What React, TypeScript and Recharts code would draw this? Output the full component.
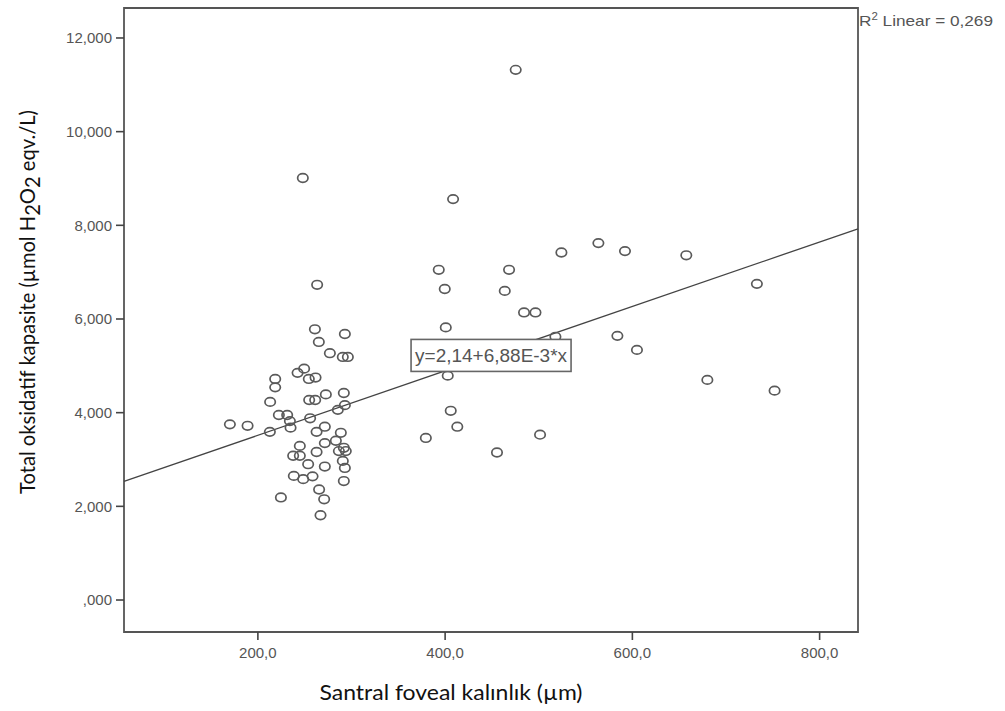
import { ScatterChart, Scatter, XAxis, YAxis, ReferenceArea, ReferenceLine, ReferenceDot } from "recharts";

// Santral foveal kalınlık (µm)
const foveal = [
  263.3, 260.9, 265.1, 276.9, 218.5, 218.5, 242.4, 249.4, 254.4, 261.6,
  213.1, 254.8, 261.2, 272.6, 170.1, 189.0, 222.4, 231.3, 234.2, 255.8,
  212.8, 234.9, 262.7, 271.5, 244.8, 237.7, 244.8, 262.7, 271.5, 253.7,
  271.5, 238.4, 248.4, 258.4, 265.4, 270.8, 224.6, 266.9,
  292.9, 290.7, 296.1, 291.8, 292.9, 285.4, 288.6, 283.3, 291.8, 286.5,
  293.9, 290.7, 292.9, 291.8,
  248.0, 475.4, 408.5, 393.2, 468.3, 399.6, 463.7, 484.3, 496.5, 400.7,
  517.8, 402.8, 406.0, 413.0, 379.4, 501.4, 455.4, 524.2, 563.7, 592.1,
  657.6, 733.0, 584.0, 604.9, 680.1, 751.9,
];

// Total oksidatif kapasite
const tos = [
  6.73, 5.78, 5.51, 5.27, 4.72, 4.54, 4.85, 4.94, 4.72, 4.75,
  4.23, 4.27, 4.27, 4.39, 3.75, 3.72, 3.95, 3.95, 3.82, 3.88,
  3.59, 3.68, 3.59, 3.70, 3.29, 3.08, 3.08, 3.16, 3.35, 2.90,
  2.85, 2.65, 2.58, 2.64, 2.36, 2.15, 2.19, 1.81,
  5.68, 5.19, 5.19, 4.42, 4.16, 4.06, 3.57, 3.40, 3.25, 3.18,
  3.18, 2.97, 2.82, 2.54,
  9.01, 11.32, 8.56, 7.05, 7.05, 6.64, 6.60, 6.14, 6.14, 5.82,
  5.62, 4.79, 4.04, 3.70, 3.46, 3.53, 3.15, 7.42, 7.62, 7.45,
  7.36, 6.75, 5.64, 5.34, 4.70, 4.47,
];

const xTicks = [200, 400, 600, 800];
const yTicks = [0, 2, 4, 6, 8, 10, 12];
const xDomain = [57, 841];
const yDomain = [-0.683, 12.64];

const intercept = 2.14;
const slope = 6.88e-3;
const r2 = "0,269";
const eqLabel = "y=2,14+6,88E-3*x";
const eqAt = 448;

const points = foveal.map((x, i) => ({ x, y: tos[i] }));
const fit = (x: number) => intercept + slope * x;

const fmtY = (v: number) => {
  const s = v.toFixed(3).replace(".", ",");
  return v === 0 ? s.replace(/^0/, "") : s;
};
const fmtX = (v: number) => v.toFixed(1).replace(".", ",");

const sans = "Liberation Sans, Arial, sans-serif";
const titleFont = "Lato, 'Open Sans', sans-serif";
const tickStyle = { fill: "#555", fontSize: 15, fontFamily: sans };

function Ring({ cx, cy }: any) {
  return <ellipse cx={cx} cy={cy} rx={5.2} ry={4.3} fill="none" stroke="#5a5a5a" strokeWidth={1.7} />;
}

function EqBox({ cx, cy }: any) {
  const w = 160;
  const h = 32;
  return (
    <g>
      <rect x={cx - w / 2 + 1} y={cy - h / 2} width={w} height={h} fill="#fff" stroke="#666" strokeWidth={1.6} />
      <text
        x={cx - 75}
        y={cy + 6.5}
        fontSize={17.5}
        fill="#555"
        fontFamily={sans}
        textLength={152}
        lengthAdjust="spacingAndGlyphs"
      >
        {eqLabel}
      </text>
    </g>
  );
}

function YTitle() {
  return (
    <text
      transform="translate(35,302) rotate(-90)"
      textAnchor="middle"
      fontSize={21}
      fill="#111"
      fontFamily={titleFont}
      textLength={384}
      lengthAdjust="spacingAndGlyphs"
    >
      Total oksidatif kapasite (µmol H
      <tspan baselineShift="-25%">2</tspan>
      O
      <tspan baselineShift="-25%">2</tspan>
      {" eqv./L)"}
    </text>
  );
}

function XTitle() {
  return (
    <text
      x={451}
      y={700}
      textAnchor="middle"
      fontSize={21}
      fill="#111"
      fontFamily={titleFont}
      textLength={263}
      lengthAdjust="spacingAndGlyphs"
    >
      Santral foveal kalınlık (µm)
    </text>
  );
}

export default function App() {
  return (
    <div style={{ position: "absolute", left: 0, top: 0, width: 1005, height: 711, background: "#fff" }}>
      <ScatterChart width={1005} height={711} margin={{ top: 8, right: 147, bottom: 49, left: 64 }}>
        <XAxis
          type="number"
          dataKey="x"
          domain={xDomain}
          ticks={xTicks}
          tickFormatter={fmtX}
          tick={tickStyle}
          tickSize={8}
          tickMargin={7}
          tickLine={{ stroke: "#444", strokeWidth: 1.6 }}
          axisLine={false}
          height={30}
          allowDataOverflow
          label={{ content: () => <XTitle /> }}
        />
        <YAxis
          type="number"
          dataKey="y"
          domain={yDomain}
          ticks={yTicks}
          tickFormatter={fmtY}
          tick={tickStyle}
          tickSize={8}
          tickMargin={4}
          tickLine={{ stroke: "#444", strokeWidth: 1.6 }}
          axisLine={false}
          width={60}
          allowDataOverflow
          label={{ content: () => <YTitle /> }}
        />
        <ReferenceArea
          x1={xDomain[0]}
          x2={xDomain[1]}
          y1={yDomain[0]}
          y2={yDomain[1]}
          fill="none"
          stroke="#555"
          strokeWidth={1.8}
          ifOverflow="visible"
        />
        <ReferenceLine
          segment={[
            { x: xDomain[0], y: fit(xDomain[0]) },
            { x: xDomain[1], y: fit(xDomain[1]) },
          ]}
          stroke="#444"
          strokeWidth={1.3}
        />
        <Scatter data={points} shape={<Ring />} isAnimationActive={false} />
        <ReferenceDot x={eqAt} y={fit(eqAt)} r={0} shape={<EqBox />} ifOverflow="visible" />
      </ScatterChart>
      <svg width={150} height={34} style={{ position: "absolute", left: 855, top: 4 }}>
        <text x={4} y={22} fontSize={15} fill="#555" fontFamily={sans} textLength={134} lengthAdjust="spacingAndGlyphs">
          R<tspan fontSize={10} dy={-6}>2</tspan>
          <tspan dy={6}> Linear = {r2}</tspan>
        </text>
      </svg>
    </div>
  );
}
